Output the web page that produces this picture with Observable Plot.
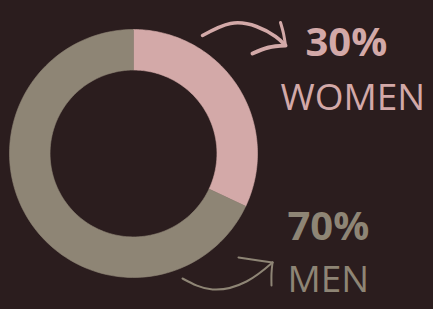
<!DOCTYPE html>
<html>
<head>
<meta charset="utf-8">
<script src="https://cdn.jsdelivr.net/npm/d3@7"></script>
<script src="https://cdn.jsdelivr.net/npm/@observablehq/plot@0.6"></script>
<style>
  html, body { margin: 0; padding: 0; background: #2b1d1e; }
  #chart svg { display: block; }
</style>
</head>
<body>
<div id="chart"></div>
<script>
// ---- data ----
const categories = ["WOMEN", "MEN"];
const shares = [32, 68];            // slice sizes as drawn
const percentLabels = ["30%", "70%"];
const colors = ["#d3a9a8", "#8e8575"];
const innerRatio = 0.673;

// annotation anchors (pixel space of the 433x309 picture)
const labelPos = [
  {pct: [305, 43], name: [280, 98]},
  {pct: [287, 227], name: [287, 280]}
];
const arrowPaths = [
  {cat: "WOMEN", w: 3.5, pts: [[202, 35], [230, 23], [256, 26], [275, 36], [284, 44]]},
  {cat: "WOMEN", w: 3, pts: [[280, 22], [283, 33], [285, 45]]},
  {cat: "WOMEN", w: 4, pts: [[252, 53], [268, 47], [285, 45]]},
  {cat: "MEN", w: 2, pts: [[182, 278], [212, 289], [246, 281], [272, 262]]},
  {cat: "MEN", w: 2, pts: [[238, 257], [258, 260], [272, 262]]},
  {cat: "MEN", w: 2, pts: [[272, 262], [271, 273], [271, 285]]}
];

// ---- geometry in donut units (center 0,0; outer radius 1) ----
const W = 433, H = 309, cx = 133, cy = 153, R = 124;
const ux = px => (px - cx) / R;
const uy = py => (cy - py) / R;

const arcs = d3.pie().sort(null).value(d => d)(shares);
const ring = [];
arcs.forEach((a, i) => {
  const n = 120, pts = [];
  for (let k = 0; k <= n; k++) {
    const t = a.startAngle + (a.endAngle - a.startAngle) * k / n;
    pts.push({cat: categories[i], x: Math.sin(t), y: Math.cos(t)});
  }
  for (let k = n; k >= 0; k--) {
    const t = a.startAngle + (a.endAngle - a.startAngle) * k / n;
    pts.push({cat: categories[i], x: innerRatio * Math.sin(t), y: innerRatio * Math.cos(t)});
  }
  pts.push(pts[0]);
  ring.push(...pts);
});

const pctText = categories.map((c, i) => ({cat: c, text: percentLabels[i], x: ux(labelPos[i].pct[0]), y: uy(labelPos[i].pct[1])}));
const nameText = categories.map((c, i) => ({cat: c, text: c, x: ux(labelPos[i].name[0]), y: uy(labelPos[i].name[1])}));

const arrowPts = [];
arrowPaths.forEach((p, j) => p.pts.forEach(([px, py]) => arrowPts.push({id: j, cat: p.cat, w: p.w, x: ux(px), y: uy(py)})));

const color = {domain: categories, range: colors};

const plot = Plot.plot({
  width: W, height: H,
  margin: 0,
  x: {domain: [ux(0), ux(W)], axis: null},
  y: {domain: [uy(H), uy(0)], axis: null},
  color,
  style: {background: "#2b1d1e", fontFamily: "'Open Sans', sans-serif", overflow: "visible"},
  marks: [
    Plot.line(ring, {x: "x", y: "y", z: "cat", fill: "cat", stroke: "cat", strokeWidth: 0.6, curve: "linear"}),
    ...arrowPaths.map((p, j) => Plot.line(arrowPts.filter(d => d.id === j), {x: "x", y: "y", stroke: "cat", strokeWidth: p.w, strokeLinecap: "round", curve: "natural"})),
    Plot.text(pctText, {x: "x", y: "y", text: "text", fill: "cat", textAnchor: "start", fontSize: 40, fontWeight: 700}),
    Plot.text(nameText, {x: "x", y: "y", text: "text", fill: "cat", textAnchor: "start", fontSize: 37, fontWeight: 400})
  ]
});
document.getElementById("chart").appendChild(plot);
</script>
</body>
</html>
